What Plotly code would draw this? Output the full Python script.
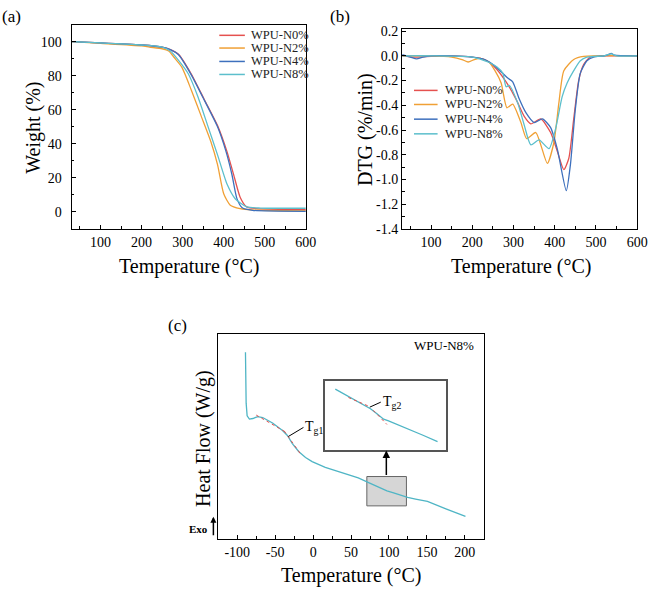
import plotly.graph_objects as go

W, H = 661, 598
FONT = "Liberation Serif"

names = ["WPU-N0%", "WPU-N2%", "WPU-N4%", "WPU-N8%"]
colors = ["#e5514f", "#f0a035", "#3d70bd", "#5cbfcc"]

# ---------------- (a) TGA ----------------
tga_T = [
    [30, 100, 200, 250, 270, 290, 321, 353, 385, 408, 424, 440, 456, 480, 600],
    [30, 100, 200, 219, 250, 266, 280, 298, 321, 345, 369, 385, 400, 416, 440, 470, 600],
    [30, 100, 200, 250, 270, 290, 321, 353, 385, 405, 420, 432, 445, 470, 600],
    [30, 100, 200, 250, 270, 290, 314, 337, 361, 385, 408, 428, 456, 490, 600],
]
tga_W = [
    [100, 99.3, 98, 96.8, 95.3, 92.6, 81, 65.9, 50.7, 35.4, 22.1, 8.7, 3, 2, 1.3],
    [100, 99, 97.5, 96.8, 95.8, 94.5, 90.5, 85, 71.6, 56.4, 41.1, 27.8, 10.7, 4, 2, 1.2, 0.6],
    [100, 99.3, 98, 96.8, 95.3, 92.3, 80.5, 65.5, 50, 36, 22, 8, 2.5, 1.0, 0.4],
    [100, 99.3, 98, 96.8, 94.5, 89, 81, 67.8, 50.7, 33.5, 16.4, 7.8, 3, 2.3, 2.2],
]

# ---------------- (b) DTG ----------------
dtg_T = [
    [30, 60, 100, 150, 200, 230, 254, 282, 306, 326, 342, 366, 390, 406, 422, 434, 446, 458, 470, 486, 520, 550, 600],
    [30, 100, 150, 175, 190, 205, 220, 240, 255, 270, 284, 298, 318, 332, 354, 382, 398, 410, 422, 446, 470, 600],
    [30, 50, 65, 80, 100, 150, 200, 230, 254, 286, 298, 314, 330, 350, 370, 390, 406, 428, 438, 450, 462, 478, 494, 520, 530, 537, 545, 600],
    [30, 100, 200, 238, 260, 274, 282, 290, 310, 326, 342, 362, 386, 402, 418, 430, 446, 462, 478, 520, 537, 550, 600],
]
dtg_D = [
    [0, -0.01, -0.005, 0, -0.01, -0.03, -0.09, -0.21, -0.35, -0.49, -0.55, -0.51, -0.62, -0.77, -0.92, -0.83, -0.51, -0.20, -0.07, -0.01, 0, 0, 0],
    [0, 0, -0.01, -0.03, -0.05, -0.03, -0.02, -0.05, -0.12, -0.22, -0.42, -0.39, -0.54, -0.67, -0.62, -0.87, -0.70, -0.38, -0.12, -0.03, -0.005, 0],
    [0.01, -0.01, -0.025, -0.01, 0, 0, -0.01, -0.03, -0.08, -0.18, -0.21, -0.35, -0.46, -0.54, -0.51, -0.58, -0.75, -1.09, -0.88, -0.43, -0.14, -0.04, -0.01, 0, 0.01, 0.02, 0.005, 0],
    [0, 0, -0.01, -0.05, -0.09, -0.14, -0.25, -0.24, -0.38, -0.56, -0.72, -0.68, -0.75, -0.59, -0.33, -0.22, -0.12, -0.04, -0.01, 0, 0.015, 0, 0],
]
dtg_tickvals = [0.2, 0.0, -0.2, -0.4, -0.6, -0.8, -1.0, -1.2, -1.4]
dtg_ticktext = ["0.2", "0.0", "-0.2", "-0.4", "-0.6", "-0.8", "-1.0", "-1.2", "-1.4"]

# ---------------- (c) DSC ----------------
dsc_T = [-89.2, -88.3, -87, -84, -79.5, -73, -66.5, -53.5, -40.4, -33.9, -27.4, -18.8, -10, -1.3,
         16, 35, 59.5, 74.6, 82, 89.6, 92.5, 95.2, 97.3, 105, 112, 118.2, 124.6, 135, 142, 150.7, 175, 200.8]
dsc_HF = [19.1, 13.9, 12.6, 12.27, 12.33, 12.53, 12.43, 11.87, 11.1, 10.6, 9.77, 8.93, 8.35, 7.93,
          7.33, 6.85, 6.27, 5.73, 5.48, 5.24, 5.11, 4.98, 4.94, 4.76, 4.58, 4.42, 4.27, 4.1, 4.03, 3.87, 3.1, 2.33]
dsc_tickvals = [-100, -50, 0, 50, 100, 150, 200]
dsc_ticktext = ["-100", "-50", "0", "50", "100", "150", "200"]
tg1_tan_T = [[-75, -34], [-38, -17]]
tg1_tan_HF = [[12.68, 10.85], [11.05, 8.75]]
tg2_tan_T = [[80.2, 89.0], [90.8, 96.6]]
tg2_tan_HF = [[5.52, 5.30], [5.20, 4.85]]
zoom_box = [70.8, 123.0, 3.4, 6.4]   # x0, x1, y0, y1
inset_x = [70, 122]
inset_y = [4.21, 5.94]
sample_label = "WPU-N8%"

fig = go.Figure()

for i in range(4):
    fig.add_trace(go.Scatter(x=tga_T[i], y=tga_W[i], mode="lines", name=names[i],
                             line=dict(color=colors[i], width=1.3, shape="spline", smoothing=0.6),
                             xaxis="x", yaxis="y", showlegend=False))
for i in range(4):
    fig.add_trace(go.Scatter(x=dtg_T[i], y=dtg_D[i], mode="lines", name=names[i],
                             line=dict(color=colors[i], width=1.3, shape="spline", smoothing=0.6),
                             xaxis="x2", yaxis="y2", showlegend=False))

fig.add_trace(go.Scatter(x=dsc_T, y=dsc_HF, mode="lines", line=dict(color="#4fb5c5", width=1.3),
                         xaxis="x3", yaxis="y3", showlegend=False))
for tx, ty in zip(tg1_tan_T, tg1_tan_HF):
    fig.add_trace(go.Scatter(x=tx, y=ty, mode="lines", line=dict(color="#e5514f", width=1, dash="dot"),
                             xaxis="x3", yaxis="y3", showlegend=False))

# inset: same curve, zoomed region
ins_T = [t for t in dsc_T if inset_x[0] + 4 <= t <= inset_x[1] - 3.5]
ins_HF = [h for t, h in zip(dsc_T, dsc_HF) if inset_x[0] + 4 <= t <= inset_x[1] - 3.5]
fig.add_trace(go.Scatter(x=ins_T, y=ins_HF, mode="lines", line=dict(color="#4fb5c5", width=1.3),
                         xaxis="x4", yaxis="y4", showlegend=False))
for tx, ty in zip(tg2_tan_T, tg2_tan_HF):
    fig.add_trace(go.Scatter(x=tx, y=ty, mode="lines", line=dict(color="#e5514f", width=1, dash="dot"),
                             xaxis="x4", yaxis="y4", showlegend=False))


def px2x(px):
    return px / W


def py2y(py):
    return 1 - py / H


def axis(domain, rng, anchor, tickfont=14, **kw):
    d = dict(domain=domain, range=rng, anchor=anchor, ticks="inside", ticklen=4, tickwidth=1.2,
             tickcolor="black", showline=True, linecolor="black", linewidth=1.3, mirror=True,
             showgrid=False, zeroline=False,
             tickfont=dict(family=FONT, size=tickfont, color="black"))
    d.update(kw)
    return d


minor_kw = lambda dt: dict(ticks="inside", ticklen=2.5, tickwidth=1, tickcolor="black", dtick=dt, showgrid=False)

fig.update_layout(
    width=W, height=H, margin=dict(l=0, r=0, t=0, b=0),
    paper_bgcolor="white", plot_bgcolor="rgba(0,0,0,0)",
    font=dict(family=FONT, color="black"),
    xaxis=axis([px2x(73), px2x(311)], [30, 600], "y", dtick=100, tick0=0, minor=minor_kw(50),
               ticklabelstandoff=0),
    yaxis=axis([py2y(229), py2y(20)], [-10, 110], "x", dtick=20, tick0=0, minor=minor_kw(10),
               ticklabelstandoff=6),
    xaxis2=axis([px2x(409), px2x(648)], [30, 600], "y2", dtick=100, tick0=0, minor=minor_kw(50),
                ticklabelstandoff=0),
    yaxis2=axis([py2y(229), py2y(25)], [-1.4, 0.213], "x2", tickvals=dtg_tickvals, ticktext=dtg_ticktext,
                minor=minor_kw(0.1), ticklabelstandoff=0),
    xaxis3=axis([px2x(222), px2x(492)], [-125, 225], "y3", tickvals=dsc_tickvals, ticktext=dsc_ticktext,
                minor=minor_kw(25), ticklabelstandoff=0),
    yaxis3=axis([py2y(546), py2y(336)], [0, 21], "x3", ticks="", showticklabels=False),
    xaxis4=dict(domain=[px2x(330), px2x(454)], range=inset_x, anchor="y4", showline=True, mirror=True,
                linecolor="#555555", linewidth=1.5, ticks="", showticklabels=False, showgrid=False,
                zeroline=False),
    yaxis4=dict(domain=[py2y(455), py2y(384)], range=inset_y, anchor="x4", showline=True, mirror=True,
                linecolor="#555555", linewidth=1.5, ticks="", showticklabels=False, showgrid=False,
                zeroline=False),
)

shapes = []
annos = []

# gray zoom box
shapes.append(dict(type="rect", xref="x3", yref="y3", x0=zoom_box[0], x1=zoom_box[1], y0=zoom_box[2],
                   y1=zoom_box[3], fillcolor="#d6d6d6", line=dict(color="#666666", width=1), layer="below"))
# arrow from box to inset
annos.append(dict(xref="x3", yref="y3", axref="x3", ayref="y3", x=96.5, y=9.05, ax=96.5, ay=zoom_box[3],
                  text="", showarrow=True, arrowhead=2, arrowsize=1, arrowwidth=1.5, arrowcolor="black"))

# manual legends
leg_a = dict(x0=223, x1=249, tx=253, rows=[31, 44, 57.7, 71])
leg_b = dict(x0=421, x1=445, tx=450, rows=[87.3, 101.7, 116.7, 131.7])
for lg in (leg_a, leg_b):
    for i, r in enumerate(lg["rows"]):
        shapes.append(dict(type="line", xref="paper", yref="paper", x0=px2x(lg["x0"]), x1=px2x(lg["x1"]),
                           y0=py2y(r), y1=py2y(r), line=dict(color=colors[i], width=1.5)))
        annos.append(dict(xref="paper", yref="paper", x=px2x(lg["tx"]), y=py2y(r), text=names[i],
                          showarrow=False, xanchor="left", yanchor="middle",
                          font=dict(family=FONT, size=12.5, color="#222222")))


def label(text, px, py, size, angle=0, **kw):
    d = dict(xref="paper", yref="paper", x=px2x(px), y=py2y(py), text=text, showarrow=False,
             xanchor="center", yanchor="middle", textangle=angle,
             font=dict(family=FONT, size=size, color="black"))
    d.update(kw)
    annos.append(d)


label("(a)", 12, 12, 17)
label("(b)", 346, 12, 17)
label("(c)", 180, 328, 17)
label("Weight (%)", 34, 125, 20, angle=-90)
label("DTG (%/min)", 371, 127, 20, angle=-90)
label("Heat Flow (W/g)", 207, 443, 20, angle=-90)
label("Temperature (°C)", 192, 267, 20)
label("Temperature (°C)", 530, 267, 20)
label("Temperature (°C)", 357, 583, 20)
label(sample_label, 452, 348, 13)
label("<b>Exo</b>", 202, 536, 11)

# Exo arrow
annos.append(dict(xref="paper", yref="paper", x=px2x(217), y=py2y(523), ax=0, ay=20, text="",
                  showarrow=True, arrowhead=2, arrowsize=0.8, arrowwidth=1.5, arrowcolor="black"))
# Tg annotations
annos.append(dict(xref="x3", yref="y3", x=-32.5, y=10.5, ax=15, ay=-9, text="T<sub>g1</sub>",
                  showarrow=True, arrowhead=0, arrowwidth=1, arrowcolor="black", xanchor="left",
                  font=dict(family=FONT, size=14, color="black")))
annos.append(dict(xref="x4", yref="y4", x=89.3, y=5.28, ax=11, ay=-5, text="T<sub>g2</sub>",
                  showarrow=True, arrowhead=0, arrowwidth=1, arrowcolor="black", xanchor="left",
                  font=dict(family=FONT, size=14, color="black")))

fig.update_layout(shapes=shapes, annotations=annos)
fig.write_html("out.html")
